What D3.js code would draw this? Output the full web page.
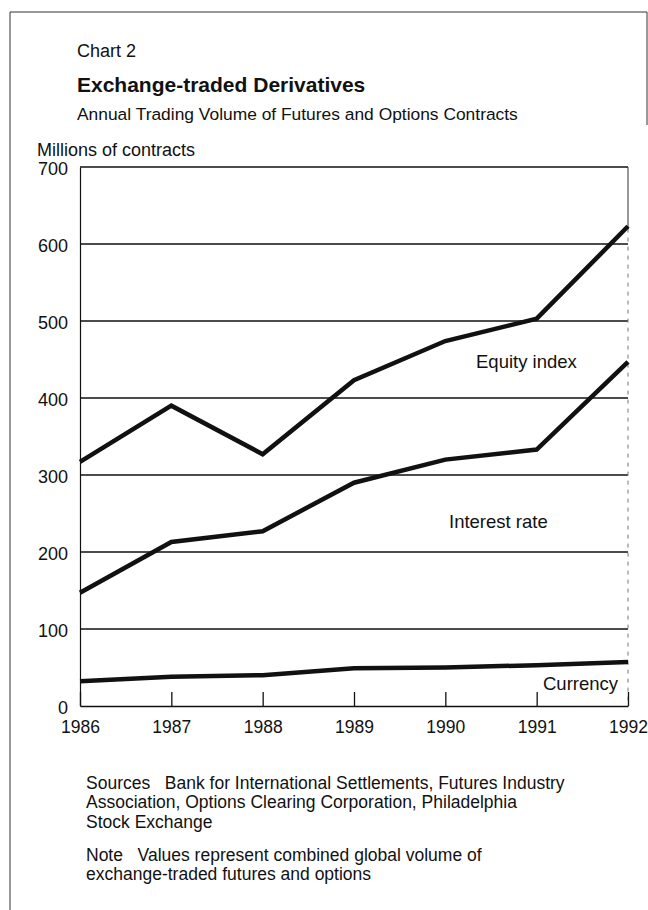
<!DOCTYPE html>
<html>
<head>
<meta charset="utf-8">
<script src="https://cdn.jsdelivr.net/npm/d3@7"></script>
<style>
  body { margin: 0; background: #fff; }
  svg { display: block; font-family: "Liberation Sans", Arial, sans-serif; }
</style>
</head>
<body>
<div id="chart"></div>
<script>
// values, millions of contracts
const years = [1986, 1987, 1988, 1989, 1990, 1991, 1992];
const equityIndex  = [317, 390, 327, 423, 474, 503, 623];
const interestRate = [147, 213, 227, 290, 320, 333, 447];
const currency     = [32, 38, 40, 49, 50, 53, 57];
const yTicks = [0, 100, 200, 300, 400, 500, 600, 700];

const seriesLabels = [
  { name: "Equity index", x: 476, y: 368 },
  { name: "Interest rate", x: 449, y: 528 },
  { name: "Currency", x: 543, y: 690 }
];

const W = 648, H = 910;
const plot = { l: 80, r: 628, t: 167, b: 706 };
const ink = "#111";
const fontFam = "Liberation Sans, Arial, sans-serif";

const svg = d3.select("#chart").append("svg")
  .attr("width", W)
  .attr("height", H);

// page frame from the scan
svg.append("path")
  .attr("d", "M10,910 L10,12 L647,12 L647,125")
  .attr("fill", "none")
  .attr("stroke", "#333")
  .attr("stroke-width", 1);

svg.append("text").attr("x", 77).attr("y", 57)
  .attr("font-size", 18).attr("fill", ink).text("Chart 2");
svg.append("text").attr("x", 77).attr("y", 92)
  .attr("font-size", 21).attr("font-weight", 700).attr("fill", ink)
  .text("Exchange-traded Derivatives");
svg.append("text").attr("x", 77).attr("y", 120)
  .attr("font-size", 17.4).attr("fill", ink)
  .text("Annual Trading Volume of Futures and Options Contracts");
svg.append("text").attr("x", 37).attr("y", 156)
  .attr("font-size", 18).attr("fill", ink)
  .text("Millions of contracts");

const x = d3.scaleLinear().domain([1986, 1992]).range([plot.l, plot.r]);
const y = d3.scaleLinear().domain([0, 700]).range([plot.b, plot.t]);

// gridlines
svg.append("g")
  .selectAll("line")
  .data(yTicks.filter(d => d > 0))
  .join("line")
  .attr("x1", plot.l).attr("x2", plot.r)
  .attr("y1", d => y(d)).attr("y2", d => y(d))
  .attr("stroke", ink)
  .attr("stroke-width", 1.3);

// y axis
const yAxis = svg.append("g")
  .attr("transform", `translate(${plot.l},0)`)
  .call(d3.axisLeft(y).tickValues(yTicks).tickSize(0).tickPadding(12));
yAxis.select(".domain").attr("stroke", ink).attr("stroke-width", 1.2);
yAxis.selectAll("text").attr("font-size", 18).attr("fill", ink)
  .attr("dy", "0.4em")
  .attr("font-family", fontFam);

// right edge: solid at the top, faint dashes below as in the scan
svg.append("line")
  .attr("x1", plot.r).attr("x2", plot.r)
  .attr("y1", plot.t).attr("y2", y(620))
  .attr("stroke", "#333")
  .attr("stroke-width", 1);
svg.append("line")
  .attr("x1", plot.r).attr("x2", plot.r)
  .attr("y1", y(620)).attr("y2", plot.b)
  .attr("stroke", "#777")
  .attr("stroke-width", 1)
  .attr("stroke-dasharray", "4,5");

// x axis, ticks pointing up into the plot
const xAxis = svg.append("g")
  .attr("transform", `translate(0,${plot.b})`)
  .call(d3.axisBottom(x).tickValues(years).tickFormat(d3.format("d"))
    .tickSizeInner(-14).tickSizeOuter(0).tickPadding(8));
xAxis.select(".domain").attr("stroke", ink).attr("stroke-width", 1.5);
xAxis.selectAll(".tick line").attr("stroke", ink).attr("stroke-width", 1.3);
xAxis.selectAll("text").attr("font-size", 17.5).attr("fill", ink)
  .attr("y", 27).attr("dy", 0)
  .attr("font-family", fontFam);

// series lines
const line = d3.line()
  .x((d, i) => x(years[i]))
  .y(d => y(d));

const lines = svg.append("g");
[equityIndex, interestRate, currency].forEach(vals => {
  lines.append("path")
    .datum(vals)
    .attr("d", line)
    .attr("fill", "none")
    .attr("stroke", ink)
    .attr("stroke-width", 4.5)
    .attr("stroke-linejoin", "miter");
});

svg.append("g")
  .selectAll("text")
  .data(seriesLabels)
  .join("text")
  .attr("x", d => d.x).attr("y", d => d.y)
  .attr("font-size", 18.5).attr("fill", ink)
  .text(d => d.name);

// footnotes
const notes = [
  { y: 789, t: "Sources   Bank for International Settlements, Futures Industry" },
  { y: 808, t: "Association, Options Clearing Corporation, Philadelphia" },
  { y: 828, t: "Stock Exchange" },
  { y: 861, t: "Note   Values represent combined global volume of" },
  { y: 880, t: "exchange-traded futures and options" }
];
svg.append("g")
  .selectAll("text")
  .data(notes)
  .join("text")
  .attr("x", 86).attr("y", d => d.y)
  .attr("font-size", 17.5).attr("fill", ink)
  .attr("xml:space", "preserve")
  .style("white-space", "pre")
  .text(d => d.t);
</script>
</body>
</html>
